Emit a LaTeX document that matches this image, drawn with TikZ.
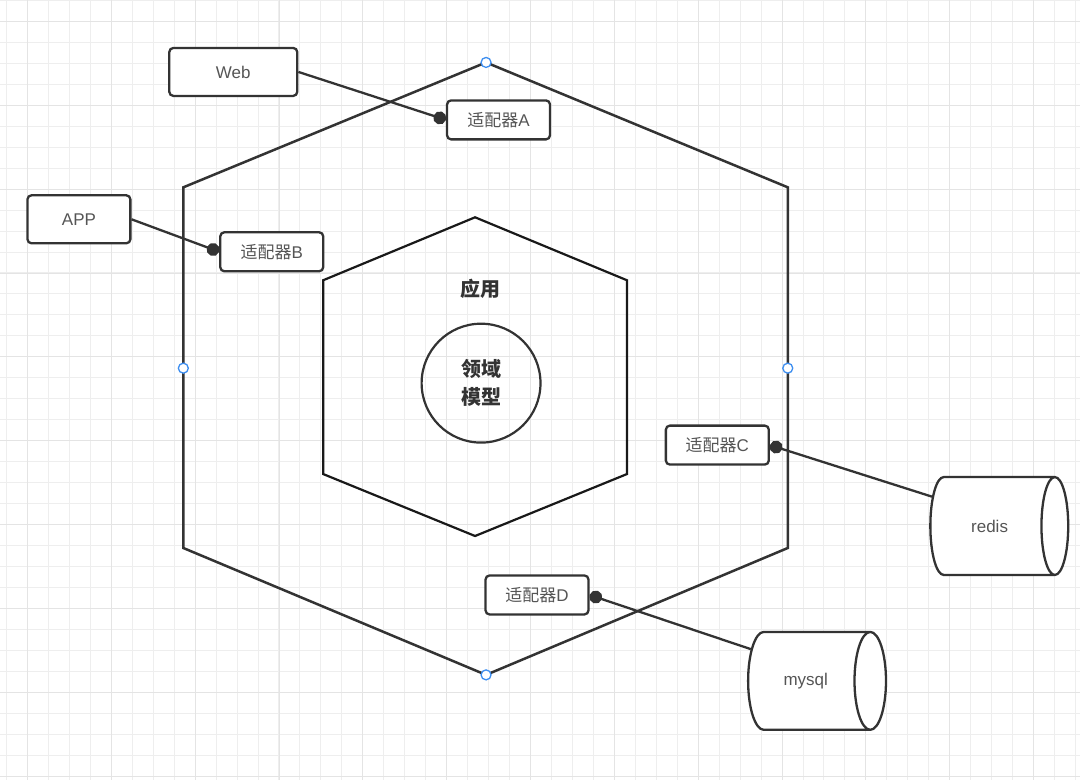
\documentclass[tikz,border=0pt]{standalone}
\usepackage{fontspec}
\setmainfont{Liberation Sans}
\newfontfamily\cjk{Noto Sans CJK SC}
\usepackage{xcolor}
\usetikzlibrary{
    shapes.geometric, % 用于圆柱 (cylinder)
    arrows.meta,      % 用于圆点端头
    positioning
}
\definecolor{linegray}{HTML}{333333}
\definecolor{textgray}{HTML}{555555}
\definecolor{handleblue}{HTML}{3D8EF0}
\definecolor{gridminor}{HTML}{EEEEEE}
\definecolor{gridmajor}{HTML}{E4E4E4}

\begin{document}
\begin{tikzpicture}[
    x=1pt, y=-1pt,
    adapter/.style={draw=linegray, line width=2.3pt, rounded corners=4pt, fill=white, minimum width=103pt, minimum height=39pt, text=textgray, font=\fontsize{17}{19}\selectfont},
    client/.style={adapter, minimum height=48pt},
    store/.style={cylinder, draw=linegray, line width=2.3pt, fill=white, aspect=1.4, minimum width=98pt, minimum height=138pt, text=textgray, font=\fontsize{17}{19}\selectfont},
    hexline/.style={draw=linegray, line width=2.5pt},
    link/.style={-{Circle[length=13pt]}, draw=linegray, line width=2.3pt},
    handle/.style={circle, draw=handleblue, fill=white, line width=1.3pt, inner sep=0pt, minimum size=10pt},
    title/.style={font=\cjk\bfseries\fontsize{20}{28}\selectfont, text=linegray, align=center},
  ]
    % Background grid
    \fill[white] (0,0) rectangle (1080,780);
    \foreach \i in {0,...,51} {
      \draw[gridminor, line width=1pt] ({6+20.98*\i},0) -- ++(0,780);
    }
    \foreach \i in {0,...,37} {
      \draw[gridminor, line width=1pt] (0,{20.98*\i}) -- ++(1080,0);
    }
    \foreach \i in {0,...,12} {
      \draw[gridmajor, line width=1pt] ({27+83.92*\i},0) -- ++(0,780);
    }
    \foreach \i in {0,...,9} {
      \draw[gridmajor, line width=1pt] (0,{21+83.92*\i}) -- ++(1080,0);
    }
    \useasboundingbox (0,0) rectangle (1080,780);

    % Outer hexagon
    \coordinate (oTop) at (486,62);
    \coordinate (oUR) at (788,187);
    \coordinate (oLR) at (788,548);
    \coordinate (oBot) at (486,675);
    \coordinate (oLL) at (183,548);
    \coordinate (oUL) at (183,187);
    \draw[hexline] (oTop) -- (oUR) -- (oLR) -- (oBot) -- (oLL) -- (oUL) -- cycle;

    % Inner hexagon
    \coordinate (iTop) at (475,217);
    \coordinate (iUR) at (627,280);
    \coordinate (iLR) at (627,474);
    \coordinate (iBot) at (475,536);
    \coordinate (iLL) at (323,474);
    \coordinate (iUL) at (323,280);
    \draw[draw=black!90, line width=2.2pt] (iTop) -- (iUR) -- (iLR) -- (iBot) -- (iLL) -- (iUL) -- cycle;

    % Core
    \node[title] (app) at (480,289) {应用};
    \node[title, circle, draw=linegray, line width=2.2pt, minimum size=119pt, inner sep=0pt] (domain) at (481,383) {领域\\模型};

    % Handles
    \node[handle] (hTop) at (oTop) {};
    \node[handle] (hBot) at (oBot) {};
    \node[handle] (hLeft) at (183,368) {};
    \node[handle] (hRight) at (788,368) {};

    % Clients and adapters
    \node[client, minimum width=128pt] (web) at (233,71.5) {Web};
    \node[client] (mobile) at (78.5,219) {APP};
    \node[adapter] (adA) at (498.5,119.5) {{\cjk 适配器}A};
    \node[adapter] (adB) at (271.5,251.5) {{\cjk 适配器}B};
    \node[adapter] (adC) at (717.5,445) {{\cjk 适配器}C};
    \node[adapter] (adD) at (537,595) {{\cjk 适配器}D};

    % Stores
    \node[store] (redis) at (990,526) {redis};
    \node[store] (mysql) at (806,681) {mysql};

    % Links
    \draw[link] (redis.153) -- (adC.east);
    \draw[link] (mysql.150) -- (adD.east);
    \draw[link] (web.east) -- (adA.west);
    \draw[link] (mobile.east) -- (adB.west);
  \end{tikzpicture}
\end{document}
